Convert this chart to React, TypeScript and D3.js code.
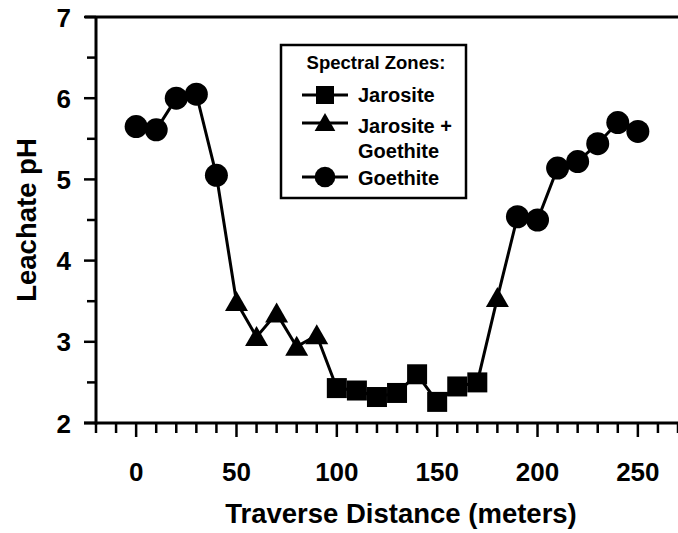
import React from "react";
import * as d3 from "d3";

const distances = [0, 10, 20, 30, 40, 50, 60, 70, 80, 90, 100, 110, 120, 130, 140, 150, 160, 170, 180, 190, 200, 210, 220, 230, 240, 250];
const phValues = [5.65, 5.61, 6.0, 6.05, 5.05, 3.49, 3.06, 3.35, 2.94, 3.08, 2.43, 2.4, 2.32, 2.37, 2.6, 2.26, 2.45, 2.5, 3.54, 4.54, 4.5, 5.14, 5.22, 5.44, 5.7, 5.59];
const zones = ["G", "G", "G", "G", "G", "T", "T", "T", "T", "T", "J", "J", "J", "J", "J", "J", "J", "J", "T", "G", "G", "G", "G", "G", "G", "G"];
const xTickLabels = [0, 50, 100, 150, 200, 250];
const yTickLabels = [2, 3, 4, 5, 6, 7];
const legendTitle = "Spectral Zones:";
const legendItems = [
  { zone: "J", lines: ["Jarosite"] },
  { zone: "T", lines: ["Jarosite +", "Goethite"] },
  { zone: "G", lines: ["Goethite"] },
];

const FONT = "'Liberation Sans', Arial, Helvetica, sans-serif";

function Marker({ zone, x, y, s = 1 }: { zone: string; x: number; y: number; s?: number }) {
  if (zone === "J") {
    const h = 10 * s;
    return <rect x={x - h} y={y - h} width={2 * h} height={2 * h} fill="#000" />;
  }
  if (zone === "T") {
    const w = 11.5 * s;
    const h = 20 * s;
    const p = `M${x},${y - h * 0.55} L${x + w},${y + h * 0.45} L${x - w},${y + h * 0.45} Z`;
    return <path d={p} fill="#000" />;
  }
  return <circle cx={x} cy={y} r={11.5 * s} fill="#000" />;
}

export default function App() {
  const W = 678;
  const H = 533;
  const x = d3.scaleLinear().domain([-20, 270]).range([96, 678]);
  const y = d3.scaleLinear().domain([2, 7]).range([423, 17]);
  const line = d3
    .line<number>()
    .x((_, i) => x(distances[i]))
    .y((d) => y(d));
  const xMinor = d3.range(-20, 271, 10);
  const yMinor = d3.range(2, 7.01, 0.5);

  return (
    <svg width={W} height={H} style={{ position: "absolute", left: 0, top: 0, background: "#fff" }} fontFamily={FONT} fontWeight="bold">
      {/* axes */}
      <line x1={85} x2={678} y1={y(7)} y2={y(7)} stroke="#000" strokeWidth={3} />
      <line x1={x(-20)} x2={x(-20)} y1={y(7)} y2={y(2) + 1.5} stroke="#000" strokeWidth={3} />
      <line x1={84} x2={678} y1={y(2)} y2={y(2)} stroke="#000" strokeWidth={3} />
      {yMinor.map((v) => {
        const major = Math.abs(v - Math.round(v)) < 1e-6;
        return <line key={"yt" + v} x1={x(-20) - (major ? 12 : 9)} x2={x(-20)} y1={y(v)} y2={y(v)} stroke="#000" strokeWidth={2.5} />;
      })}
      {xMinor.map((v) => {
        const major = v % 50 === 0;
        return <line key={"xt" + v} x1={x(v)} x2={x(v)} y1={y(2)} y2={y(2) + (major ? 14 : 10)} stroke="#000" strokeWidth={2.5} />;
      })}
      {yTickLabels.map((v) => (
        <text key={"yl" + v} x={71} y={y(v) + 9.5} textAnchor="end" fontSize={26}>
          {v}
        </text>
      ))}
      {xTickLabels.map((v) => (
        <text key={"xl" + v} x={x(v)} y={481} textAnchor="middle" fontSize={26}>
          {v}
        </text>
      ))}
      <text x={401} y={523} textAnchor="middle" fontSize={27.5}>
        Traverse Distance (meters)
      </text>
      <text transform={`translate(36,${(y(2) + y(7)) / 2}) rotate(-90)`} textAnchor="middle" fontSize={27.5}>
        Leachate pH
      </text>

      {/* data */}
      <path d={line(phValues) || ""} fill="none" stroke="#000" strokeWidth={3} />
      {phValues.map((v, i) => (
        <Marker key={"m" + i} zone={zones[i]} x={x(distances[i])} y={y(v)} />
      ))}

      {/* legend */}
      <rect x={281} y={45} width={185} height={153} fill="#fff" stroke="#000" strokeWidth={2.5} />
      <text x={376} y={69} textAnchor="middle" fontSize={18.5}>
        {legendTitle}
      </text>
      {legendItems.map((item, i) => {
        const cy = [95, 123, 177][i];
        const base = [102, 133, 185][i];
        return (
          <g key={"lg" + i}>
            <line x1={302} x2={348} y1={cy} y2={cy} stroke="#000" strokeWidth={3} />
            <Marker zone={item.zone} x={325} y={cy} s={0.9} />
            {item.lines.map((t, j) => (
              <text key={j} x={358} y={base + j * 25} fontSize={20}>
                {t}
              </text>
            ))}
          </g>
        );
      })}
    </svg>
  );
}
